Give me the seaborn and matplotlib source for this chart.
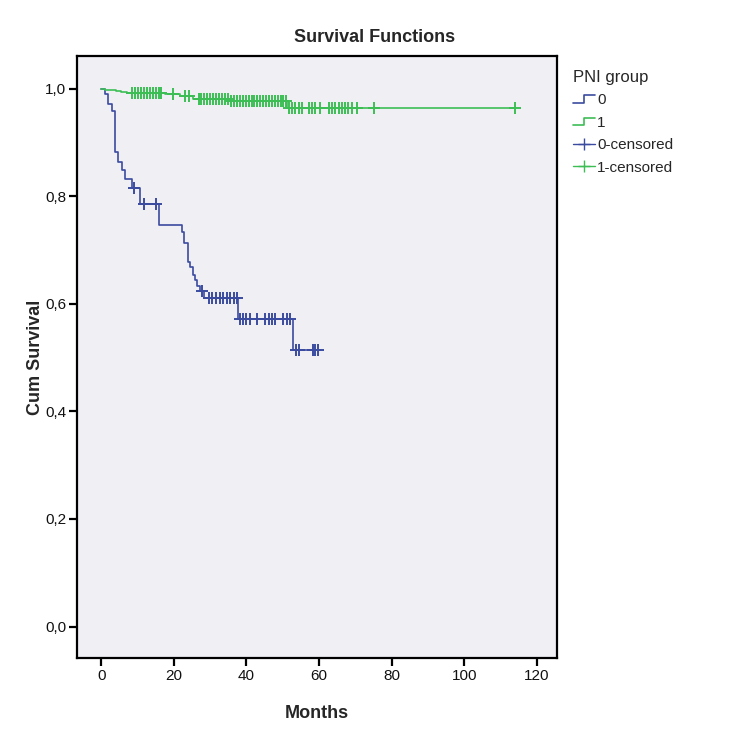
import numpy as np
import pandas as pd
import seaborn as sns
import matplotlib
matplotlib.use("Agg")
import matplotlib.pyplot as plt
from matplotlib.lines import Line2D
from matplotlib.legend_handler import HandlerBase
from matplotlib.ticker import FuncFormatter

# Kaplan-Meier steps (months, cumulative survival)
pni0_event_t = [1.1, 2.0, 3.1, 3.9, 4.6, 5.7, 6.6, 8.5, 10.7, 16.0, 22.2, 22.9, 23.8,
                24.5, 25.2, 25.8, 26.5, 27.3, 28.2, 37.8, 52.8]
pni0_event_s = [0.990, 0.972, 0.959, 0.882, 0.864, 0.848, 0.831, 0.815, 0.785, 0.746,
                0.734, 0.712, 0.678, 0.669, 0.654, 0.644, 0.633, 0.623, 0.611, 0.571, 0.514]
pni0_censor_t = [9.0, 11.7, 15.2, 27.7, 29.6, 30.6, 31.6, 32.6, 33.6, 34.6, 35.6, 36.6,
                 37.4, 38.1, 39.0, 39.9, 40.9, 42.9, 45.2, 46.1, 47.0, 47.9, 50.2, 51.2,
                 52.1, 53.7, 54.4, 58.3, 59.0, 59.8]

pni1_event_t = [1.0, 2.5, 4.0, 5.5, 7.0, 17.6, 21.8, 25.4, 35.3, 51.3]
pni1_event_s = [0.998, 0.997, 0.995, 0.994, 0.992, 0.990, 0.986, 0.981, 0.977, 0.963]
pni1_censor_t = [8.6, 9.4, 10.2, 11.0, 11.8, 12.6, 13.4, 14.2, 15.0, 15.8, 16.6, 19.9,
                 23.1, 24.1, 26.8, 27.6, 28.4, 29.2, 30.0, 30.8, 31.6, 32.4, 33.2, 34.0,
                 34.8, 35.8, 36.6, 37.4, 38.2, 39.0, 39.8, 40.6, 41.4, 42.2, 43.0, 43.8,
                 44.6, 45.4, 46.2, 47.0, 47.8, 48.6, 49.4, 50.2, 51.0, 51.6, 52.5, 53.4,
                 54.4, 55.3, 57.1, 58.0, 59.0, 60.3, 62.6, 63.5, 64.5, 65.4, 66.3, 67.2,
                 68.1, 69.1, 70.4, 75.0, 114.0]

groups = ["0", "1"]
colors = {"0": "#3B4BA0", "1": "#3DBE55"}
y_ticks = [0.0, 0.2, 0.4, 0.6, 0.8, 1.0]
x_ticks = [0, 20, 40, 60, 80, 100, 120]


def km_frames(event_t, event_s, censor_t):
    t = np.array([0.0] + event_t + [max(censor_t)])
    s = np.array([1.0] + event_s + [event_s[-1]])
    idx = np.searchsorted(t, censor_t, side="right") - 1
    line = pd.DataFrame({"Months": t, "Cum Survival": s})
    cens = pd.DataFrame({"Months": censor_t, "Cum Survival": s[idx]})
    return line, cens


curves = {
    "0": km_frames(pni0_event_t, pni0_event_s, pni0_censor_t),
    "1": km_frames(pni1_event_t, pni1_event_s, pni1_censor_t),
}

sns.set_theme(style="white")
plt.rcParams["font.family"] = ["Liberation Sans", "DejaVu Sans"]

fig = plt.figure(figsize=(7.5, 7.5), dpi=100)
ax = fig.add_axes([0.103, 0.123, 0.640, 0.802])
ax.set_facecolor("#F0EFF4")

for g in groups:
    line, cens = curves[g]
    sns.lineplot(data=line, x="Months", y="Cum Survival", ax=ax, color=colors[g],
                 drawstyle="steps-post", estimator=None, sort=False, lw=1.2, legend=False)
    sns.scatterplot(data=cens, x="Months", y="Cum Survival", ax=ax, color=colors[g],
                    marker="+", s=70, linewidth=1.4, legend=False, zorder=3)

ax.set_xlim(-6.6, 125.6)
ax.set_ylim(-0.058, 1.06)
ax.set_xticks(x_ticks)
ax.set_yticks(y_ticks)
ax.yaxis.set_major_formatter(FuncFormatter(lambda v, p: f"{v:.1f}".replace(".", ",")))
ax.tick_params(axis="both", direction="out", length=6, width=1.6, color="black",
               labelsize=11, pad=2, labelcolor="#111111")
ax.tick_params(axis="both", which="both", bottom=True, left=True)
for sp in ax.spines.values():
    sp.set_visible(True)
    sp.set_color("black")
    sp.set_linewidth(1.6)

ax.set_xlabel("Months", fontsize=13, fontweight="bold", labelpad=16)
ax.set_ylabel("Cum Survival", fontsize=13, fontweight="bold", labelpad=1)
fig.text(0.5, 1 - 38 / 750, "Survival Functions", ha="center", va="center",
         fontsize=13, fontweight="bold")


class StepHandler(HandlerBase):
    def create_artists(self, legend, orig_handle, xdescent, ydescent, width, height,
                       fontsize, trans):
        xs = np.array([0, 0.5, 0.5, 1.0]) * width - xdescent
        ys = np.array([0.15, 0.15, 0.85, 0.85]) * height - ydescent
        ln = Line2D(xs, ys, color=orig_handle.get_color(), lw=1.2, transform=trans)
        return [ln]


h0 = Line2D([], [], color=colors["0"])
h1 = Line2D([], [], color=colors["1"])
c0 = Line2D([], [], color=colors["0"], marker="+", markersize=9, lw=1.0)
c1 = Line2D([], [], color=colors["1"], marker="+", markersize=9, lw=1.0)
leg = ax.legend([h0, h1, c0, c1], ["0", "1", "0-censored", "1-censored"],
                title="PNI group", loc="upper left", bbox_to_anchor=(1.005, 1.0),
                frameon=False, fontsize=11, title_fontsize=12, alignment="left",
                handlelength=1.4, handletextpad=0.15, labelspacing=0.55,
                handler_map={h0: StepHandler(), h1: StepHandler()})
leg._legend_box.sep = 6

fig.savefig("out.png", dpi=100, facecolor="white")
